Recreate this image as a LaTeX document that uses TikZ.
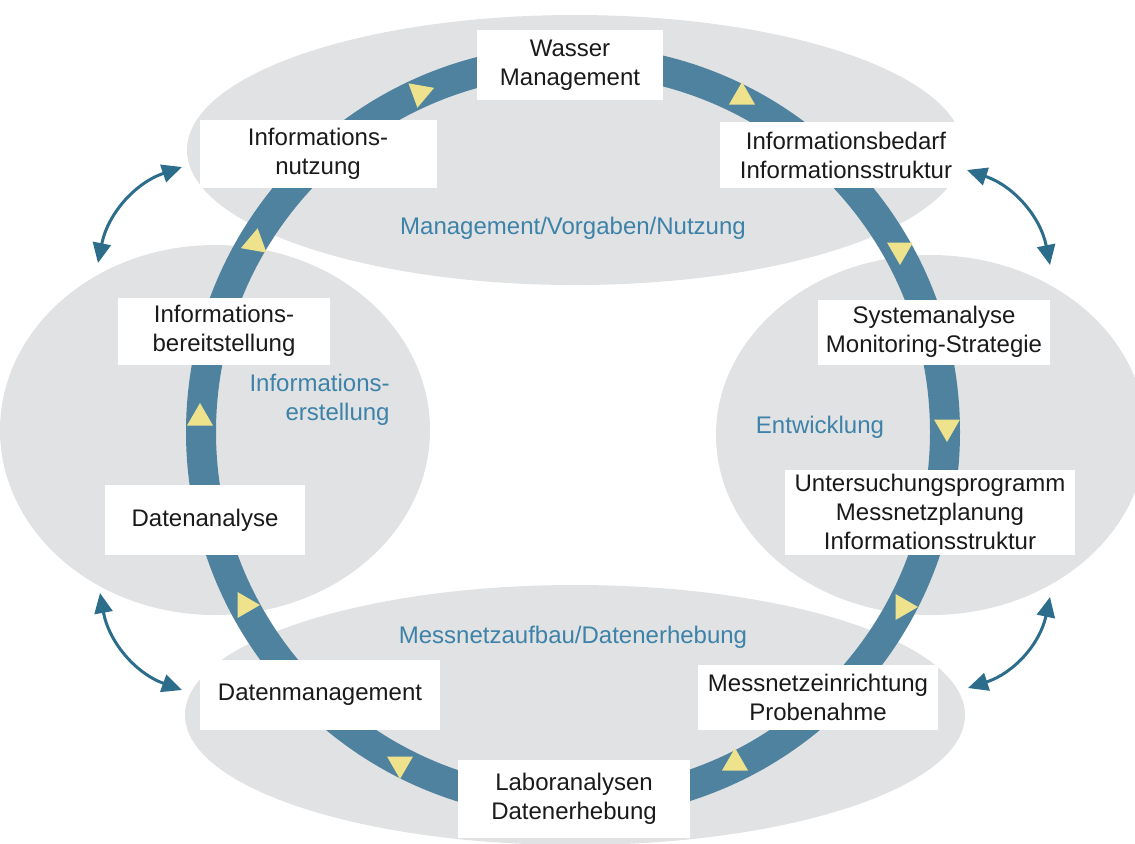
\documentclass[tikz,border=0pt]{standalone}
\usepackage{fontspec}
\setmainfont{Liberation Sans}
\usetikzlibrary{positioning, shapes.geometric, arrows.meta}
\definecolor{cloud}{RGB}{225,226,228}
\definecolor{ringblue}{RGB}{78,130,158}
\definecolor{tipyellow}{RGB}{238,227,140}
\definecolor{labelblue}{RGB}{61,130,168}
\definecolor{linkblue}{RGB}{45,109,140}
\definecolor{ink}{RGB}{26,26,26}

\tikzset{
  stage/.style={fill=white, text=ink, align=center, inner sep=0pt,
    font=\fontsize{12}{14.5}\selectfont},
  phase/.style={text=labelblue, align=center, inner sep=0pt,
    font=\fontsize{12}{14.5}\selectfont},
  marker/.style={regular polygon, regular polygon sides=3, fill=tipyellow,
    inner sep=0pt, minimum size=15pt},
  link/.style={draw=linkblue, line width=1.5pt,
    {Triangle[length=10pt,width=9pt]}-{Triangle[length=10pt,width=9pt]}}
}

\begin{document}
\begin{tikzpicture}[x=0.5pt, y=-0.5pt]
  \useasboundingbox (0,0) rectangle (1135,843);
  % Phases (grey clouds)
  \fill[cloud] (575,150) ellipse (388 and 135);
  \fill[cloud] (215,430) ellipse (215 and 185);
  \fill[cloud] (931,435) ellipse (215 and 180);
  \fill[cloud] (575,715) ellipse (390 and 130);
  % Cycle
  \draw[ringblue, line width=15pt] (573,432) circle (372);
  % Direction markers on the cycle
  \foreach \x/\y/\a [count=\i] in {420/93/20, 742/97/90, 900/250/270,
      947/427/270, 903/607/0, 735/763/90, 400/764/270, 245/605/0,
      200/418/90, 255/243/80} {
    \node[marker, rotate=\a-90] (tip\i) at (\x,\y) {};
  }
  % Steps
  \node[stage, minimum width=93pt, minimum height=35pt] (wasser) at (570,65) {Wasser\\Management};
  \node[stage, minimum width=126pt, minimum height=33pt] (bedarf) at (846,155) {Informationsbedarf\\Informationsstruktur};
  \node[stage, minimum width=116pt, minimum height=32.5pt] (system) at (934,332) {Systemanalyse\\Monitoring-Strategie};
  \node[stage, minimum width=145pt, minimum height=42.5pt] (programm) at (930,512) {Untersuchungsprogramm\\Messnetzplanung\\Informationsstruktur};
  \node[stage, minimum width=120pt, minimum height=32.5pt] (einricht) at (818,697) {Messnetzeinrichtung\\Probenahme};
  \node[stage, minimum width=116pt, minimum height=39pt] (labor) at (574,799) {Laboranalysen\\Datenerhebung};
  \node[stage, minimum width=120pt, minimum height=35pt] (datman) at (320,695) {Datenmanagement};
  \node[stage, minimum width=100pt, minimum height=35pt] (datanal) at (205,520) {Datenanalyse};
  \node[stage, minimum width=106pt, minimum height=33.5pt] (bereit) at (224,331) {Informations-\\bereitstellung};
  \node[stage, minimum width=118.5pt, minimum height=34pt] (nutzung) at (318,154) {Informations-\\nutzung};
  % Phase names
  \node[phase] (mgmt) at (573,228) {Management/Vorgaben/Nutzung};
  \node[phase] (entw) at (820,427) {Entwicklung};
  \node[phase] (aufbau) at (573,637) {Messnetzaufbau/Datenerhebung};
  \node[phase, align=right, anchor=east] (erst) at (390,400) {Informations-\\erstellung};
  % Links between phases
  \coordinate (lt1) at (98,263);
  \coordinate (lt2) at (182,167);
  \coordinate (rt1) at (967,170);
  \coordinate (rt2) at (1050,265);
  \coordinate (lb1) at (100,593);
  \coordinate (lb2) at (182,690);
  \coordinate (rb1) at (968,688);
  \coordinate (rb2) at (1050,597);
  \draw[link] (lt1) to[bend left=30] (lt2);
  \draw[link] (rt1) to[bend left=30] (rt2);
  \draw[link] (lb1) to[bend right=30] (lb2);
  \draw[link] (rb1) to[bend right=30] (rb2);
\end{tikzpicture}
\end{document}
